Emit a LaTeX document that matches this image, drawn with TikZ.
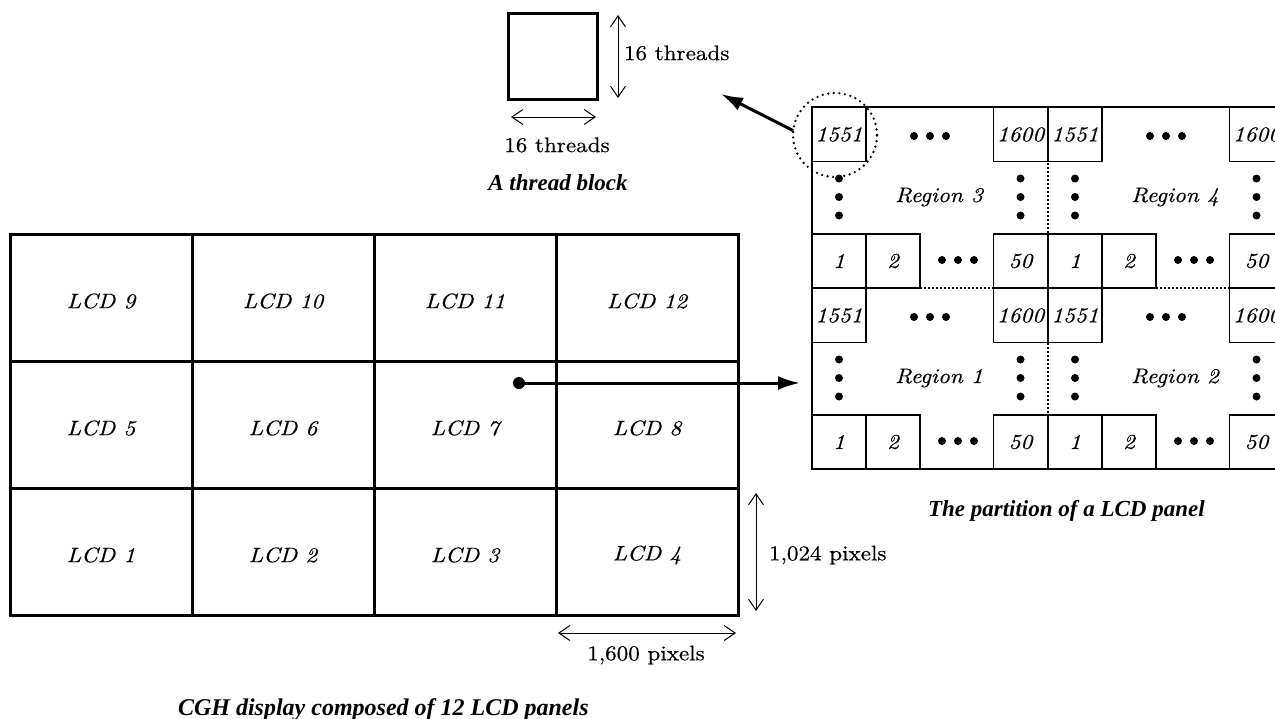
\documentclass[tikz,border=0pt]{standalone}
\usepackage{fontspec}
\newfontfamily\capfont{Liberation Serif}
\newfontfamily\cent{lmroman10}[Extension=.otf, UprightFont=*-regular, ItalicFont=*-italic, FakeStretch=1.1, FakeBold=0.5]
\usetikzlibrary{arrows.meta}
\begin{document}
\begin{tikzpicture}[x=1pt,y=-1pt,
  every node/.style={inner sep=0pt, outer sep=0pt},
  lbl/.style={font=\cent\fontsize{21}{25}\selectfont},
  ilbl/.style={font=\cent\fontsize{21}{25}\selectfont\itshape},
  captxt/.style={font=\capfont\fontsize{23}{27}\selectfont\bfseries\itshape},
  gridline/.style={line width=3pt},
  cellbox/.style={draw, line width=1.3pt, minimum width=54pt, minimum height=54pt,
    font=\cent\fontsize{21}{25}\selectfont\itshape},
  dim/.style={line width=1pt, {Straight Barb[length=11pt,width=15pt]}-{Straight Barb[length=11pt,width=15pt]}},
  bigarrow/.style={line width=3pt, -{Latex[length=22pt,width=14pt]}},
  divider/.style={line width=2pt, dash pattern=on 2pt off 2pt},
  hilite/.style={draw, circle, minimum size=84pt, line width=2.6pt, dash pattern=on 0pt off 5.6pt, line cap=round},
]
\useasboundingbox (0,0) rectangle (1275,718);

% ---------- LCD grid ----------
\draw[gridline] (10,234) rectangle (738,615);
\foreach \x in {192,374,556} \draw[gridline] (\x,234) -- (\x,615);
\foreach \y in {361,488} \draw[gridline] (10,\y) -- (738,\y);

\foreach \n/\x/\y in {9/101/301, 10/283/301, 11/465/301, 12/647/301,
                      5/101/428, 6/283/428, 7/465/428, 8/647/428,
                      1/101/555, 2/283/555, 3/465/555, 4/647/555}
  \node[ilbl] (lcd\n) at (\x,\y) {LCD \n};

% dimensions of one panel
\coordinate (vtop) at (756,493);
\coordinate (vbot) at (756,611);
\draw[dim] (vtop) -- (vbot);
\node[lbl, anchor=west] (hdim) at (769,555) {1,024 pixels};
\coordinate (hl1) at (558,633);
\coordinate (hr1) at (736,633);
\draw[dim] (hl1) -- (hr1);
\node[lbl] (wdim) at (646,655) {1,600 pixels};

\node[captxt, font=\capfont\fontsize{24}{28}\selectfont\bfseries\itshape, anchor=base west] (capgrid) at (178,715) {CGH display composed of 12 LCD panels};

% ---------- thread block ----------
\node[draw, line width=2.7pt, minimum width=89pt, minimum height=86pt] (tb) at (553,56.5) {};
\coordinate (tbv1) at (618,15);
\coordinate (tbv2) at (618,98);
\draw[dim] (tbv1) -- (tbv2);
\node[lbl, anchor=west] (tbvl) at (624,53) {16 threads};
\coordinate (tbh1) at (511,117);
\coordinate (tbh2) at (596,117);
\draw[dim] (tbh1) -- (tbh2);
\node[lbl] (tbhl) at (557,145) {16 threads};
\node[captxt, anchor=base] (captb) at (558,190) {A thread block};

% ---------- LCD panel partition ----------
\begin{scope}
\clip (0,0) rectangle (1275,718);
\draw[divider] (1048,107) -- (1048,469);
\draw[divider] (812,288) -- (1290,288);
\node[draw, line width=2.2pt, minimum width=472pt, minimum height=362pt] (panel) at (1048,288) {};
\foreach \ox/\oy/\r in {812/107/3, 1048/107/4, 812/288/1, 1048/288/2} {
  \node[cellbox] (r\r a) at (\ox+27,\oy+27.5) {1551};
  \node[cellbox] (r\r b) at (\ox+208.5,\oy+27.5) {1600};
  \node[cellbox] (r\r c) at (\ox+27,\oy+154) {1};
  \node[cellbox] (r\r d) at (\ox+81,\oy+154) {2};
  \node[cellbox] (r\r e) at (\ox+208.5,\oy+154) {50};
  \node[ilbl] (r\r l) at (\ox+127,\oy+90) {Region \r};
  \foreach \d in {-16,0,16} {
    \fill (\ox+118+\d,\oy+29) circle (4pt);
    \fill (\ox+146+\d,\oy+153) circle (4pt);
  }
  \foreach \d in {-18.5,0,18.5} {
    \fill (\ox+27,\oy+90+\d) circle (4pt);
    \fill (\ox+208.5,\oy+90+\d) circle (4pt);
  }
}
\end{scope}
\node[hilite] (hl) at (835,135) {};
\node[captxt, anchor=base west] (cappanel) at (928,516) {The partition of a LCD panel};

% ---------- connectors ----------
\coordinate (tbtip) at (721,94);
\draw[bigarrow] (hl.174) -- (tbtip);
\node[circle, fill, minimum size=12pt] (src) at (519,383) {};
\draw[bigarrow, shorten >=12pt] (src.center) -- (panel.west |- src);
\end{tikzpicture}
\end{document}
